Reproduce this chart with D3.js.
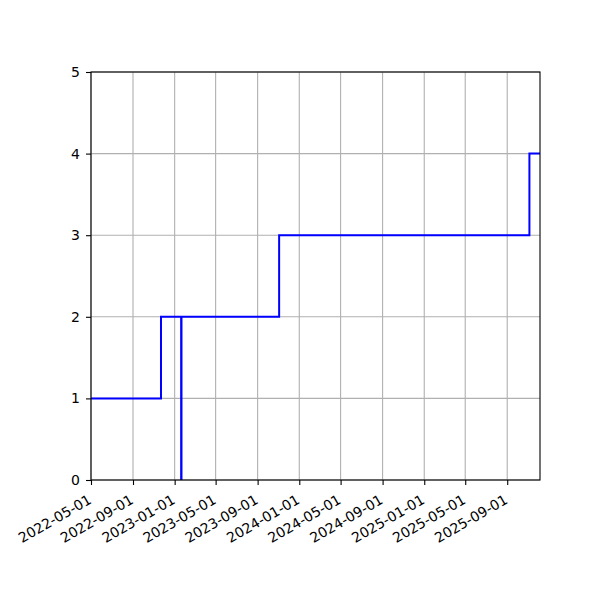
<!DOCTYPE html>
<html>
<head>
<meta charset="utf-8">
<script src="https://cdn.jsdelivr.net/npm/d3@7"></script>
<style>
  body { margin: 0; background: #fff; }
  text { font-family: "DejaVu Sans", sans-serif; font-size: 14px; fill: #000; }
</style>
</head>
<body>
<div id="chart"></div>
<script>
// step series
const dates = ["2022-05-01", "2022-11-22", "2023-01-20", "2023-01-21", "2023-11-03", "2025-11-05", "2025-12-06"];
const values = [1, 2, 0, 2, 3, 4, 4];
const yTicks = [0, 1, 2, 3, 4, 5];

const parse = d3.timeParse("%Y-%m-%d");
const data = dates.map((d, i) => ({ date: parse(d), value: values[i] }));

const width = 600, height = 600;
const margin = { top: 72, right: 60, bottom: 120, left: 91 };

const svg = d3.select("#chart").append("svg")
  .attr("width", width)
  .attr("height", height);

const x = d3.scaleTime()
  .domain(d3.extent(data, d => d.date))
  .range([margin.left, width - margin.right]);

const y = d3.scaleLinear()
  .domain([0, 5])
  .range([height - margin.bottom, margin.top]);

const xTicks = d3.timeMonth.every(4).range(parse("2022-05-01"), x.domain()[1]);
const fmt = d3.timeFormat("%Y-%m-%d");

// grid
svg.append("g").selectAll("line").data(xTicks).join("line")
  .attr("x1", d => x(d)).attr("x2", d => x(d))
  .attr("y1", y(0)).attr("y2", y(5))
  .attr("stroke", "#b0b0b0").attr("stroke-width", 1.1);

svg.append("g").selectAll("line").data(yTicks).join("line")
  .attr("x1", x.range()[0]).attr("x2", x.range()[1])
  .attr("y1", d => y(d)).attr("y2", d => y(d))
  .attr("stroke", "#b0b0b0").attr("stroke-width", 1.1);

// line
svg.append("clipPath").attr("id", "clip")
  .append("rect")
  .attr("x", x.range()[0]).attr("y", y(5))
  .attr("width", x.range()[1] - x.range()[0])
  .attr("height", y(0) - y(5));

svg.append("path")
  .datum(data)
  .attr("clip-path", "url(#clip)")
  .attr("fill", "none")
  .attr("stroke", "#0000ff")
  .attr("stroke-width", 2)
  .attr("d", d3.line().curve(d3.curveStepAfter).x(d => x(d.date)).y(d => y(d.value)));

// frame
svg.append("rect")
  .attr("x", x.range()[0]).attr("y", y(5))
  .attr("width", x.range()[1] - x.range()[0])
  .attr("height", y(0) - y(5))
  .attr("fill", "none").attr("stroke", "#000").attr("stroke-width", 1.1);

// x axis
const xAxis = svg.append("g").attr("transform", `translate(0,${y(0)})`)
  .call(d3.axisBottom(x).tickValues(xTicks).tickFormat(fmt).tickSize(5).tickPadding(4));
xAxis.select(".domain").remove();
xAxis.selectAll("line").attr("stroke-width", 1.1);
xAxis.selectAll("text")
  .attr("font-size", 14)
  .attr("font-family", "DejaVu Sans")
  .style("text-anchor", "end")
  .attr("dy", "0.71em")
  .attr("y", 0).attr("x", 0)
  .attr("transform", "translate(-4,14) rotate(-30)");

// y axis
const yAxis = svg.append("g").attr("transform", `translate(${x.range()[0]},0)`)
  .call(d3.axisLeft(y).tickValues(yTicks).tickFormat(d3.format("d")).tickSize(5).tickPadding(6));
yAxis.select(".domain").remove();
yAxis.selectAll("line").attr("stroke-width", 1.1);
yAxis.selectAll("text").attr("font-size", 14).attr("font-family", "DejaVu Sans");
</script>
</body>
</html>
